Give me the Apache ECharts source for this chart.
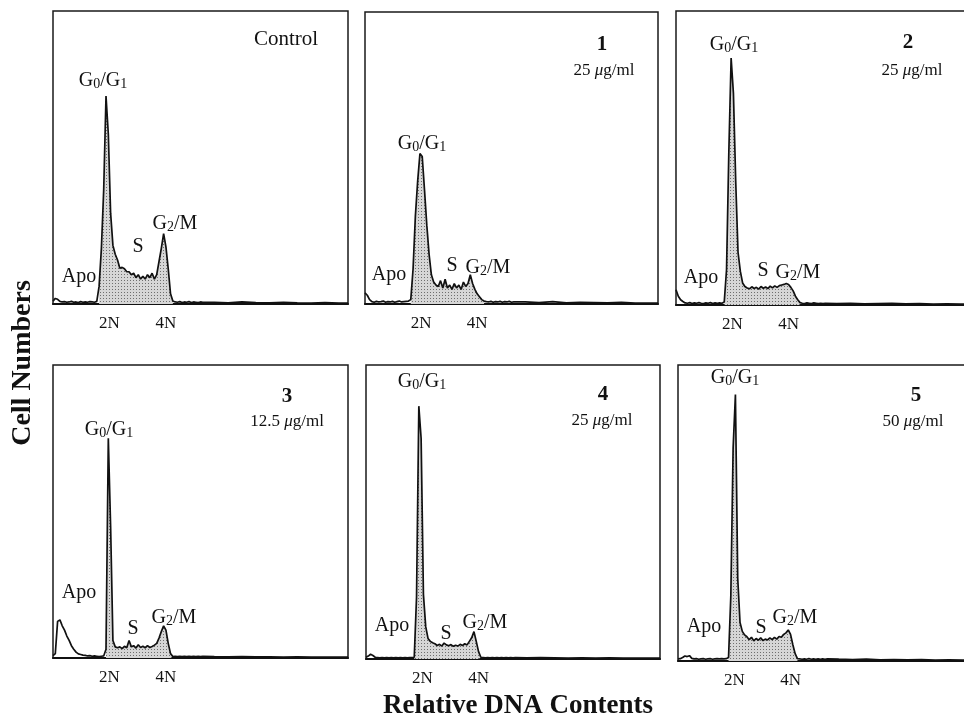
<!DOCTYPE html>
<html>
<head>
<meta charset="utf-8">
<script src="https://cdn.jsdelivr.net/npm/echarts@6/dist/echarts.min.js"></script>
<style>
html, body { margin: 0; background: #fff; overflow: hidden; }
/* a bit wider than the window: the right-hand panels run off the edge */
#main { width: 980px; height: 719px; }
</style>
</head>
<body>
<div id="main"></div>
<script>
// histogram channels: 0..130 every 2, then a sparse tail out to 256
const STEP = 2
const tailChannels = [140, 152, 164, 176, 188, 200, 212, 224, 236, 248, 256]

// cell counts, % of panel height
const controlCounts = [
    1.0, 1.9, 1.6, 0.9, 0.7, 0.8, 0.6, 0.7, 0.9, 0.6,
    0.7, 0.5, 0.8, 0.6, 0.7, 0.6, 0.8, 0.7, 0.6, 0.9,
    6, 19, 39, 71, 58, 31, 20, 17, 15, 12.2,
    12.5, 12, 11, 11, 10, 10.5, 9, 10, 8.5, 9.5,
    8.5, 10, 9, 10.5, 8.5, 10, 14.5, 19, 24, 19.5,
    12, 3.5, 1.0, 0.7, 0.6, 0.8, 0.5, 0.7, 0.6, 0.8,
    0.5, 0.7, 0.6, 0.5, 0.7, 0.6]
const dose1Counts = [
    3.8, 3.0, 1.5, 0.8, 0.6, 0.9, 0.7, 0.8, 1.0, 0.6,
    0.8, 0.7, 0.9, 0.6, 0.8, 1.0, 0.7, 0.8, 0.9, 1.0,
    1.5, 12, 30, 42, 51.5, 50.5, 39, 27, 17, 10,
    7.5, 6.5, 6, 8, 5.5, 8.5, 5.5, 6.5, 5, 7,
    5.5, 6.5, 5, 7.5, 6, 7, 10, 7, 5, 3.5,
    2.5, 1.5, 1.0, 0.8, 0.7, 0.9, 0.6, 0.8, 0.7, 0.9,
    0.6, 0.8, 0.7, 0.9, 0.6, 0.7]
const dose2Counts = [
    5.2, 3.0, 1.8, 1.2, 0.7, 0.6, 0.8, 0.5, 0.7, 0.6,
    0.8, 0.6, 0.5, 0.7, 0.6, 0.8, 0.5, 0.7, 0.6, 0.7,
    0.6, 1.0, 12, 52, 84, 72, 42, 18, 11.5, 7.5,
    6.3, 5.8, 5.5, 6.2, 5.6, 6.0, 5.4, 6.3, 5.7, 6.1,
    5.6, 6.4, 5.8, 6.5, 6.0, 6.6, 6.8, 7.0, 7.3, 7.0,
    6.0, 4.8, 3.0, 1.8, 0.8, 0.6, 0.5, 0.7, 0.6, 0.5,
    0.7, 0.6, 0.5, 0.6, 0.5, 0.6]
const dose3Counts = [
    0.8, 1.5, 12.5, 13, 11, 9.5, 7.5, 6, 4.2, 3,
    2, 1.4, 1.2, 1.0, 0.9, 0.7, 0.8, 0.6, 0.7, 0.6,
    0.5, 0.6, 0.7, 3, 75, 45, 6, 3.8, 3.5, 3.8,
    3.2, 4.0, 3.5, 6.0, 3.8, 4.2, 3.4, 4.5, 3.6, 4.0,
    3.5, 4.2, 3.6, 3.9, 4.4, 5.0, 6.8, 9, 11, 9.5,
    5, 1.5, 0.5, 0.6, 0.5, 0.6, 0.5, 0.6, 0.5, 0.6,
    0.5, 0.6, 0.5, 0.6, 0.5, 0.6]
const dose4Counts = [
    0.6, 1.0, 1.6, 1.2, 0.6, 0.5, 0.4, 0.5, 0.4, 0.5,
    0.4, 0.5, 0.4, 0.5, 0.4, 0.5, 0.4, 0.5, 0.4, 0.5,
    0.5, 0.6, 21, 86, 75, 22, 11, 7, 6, 5.5,
    5.2, 4.6, 5.0, 4.4, 5.4, 4.8, 4.5, 4.9, 4.3, 4.7,
    4.4, 5.0, 4.6, 5.2, 4.8, 6.0, 7.2, 9.3, 6, 2.5,
    0.6, 0.5, 0.4, 0.5, 0.4, 0.5, 0.4, 0.5, 0.4, 0.5,
    0.4, 0.5, 0.4, 0.5, 0.4, 0.5]
const dose5Counts = [
    0.7, 0.8, 1.2, 1.7, 1.5, 1.8, 0.9, 0.7, 0.8, 0.6,
    0.7, 0.8, 0.6, 0.7, 0.8, 0.6, 0.7, 0.8, 0.7, 0.8,
    0.7, 0.8, 1.2, 22, 72, 90, 28, 13, 10, 8.8,
    8.2, 7.2, 8.0, 6.8, 7.6, 7.0, 7.8, 6.9, 7.4, 7.1,
    7.8, 7.2, 8.0, 7.4, 8.3, 8.0, 9, 9.5, 10.5, 9,
    5.5, 2.5, 0.8, 0.7, 0.6, 0.7, 0.6, 0.8, 0.6, 0.7,
    0.6, 0.7, 0.6, 0.7, 0.6, 0.7]

const controlTail = [0.6, 0.4, 0.7, 0.5, 0.4, 0.6, 0.4, 0.3, 0.5, 0.3, 0.3]
const dose1Tail = [0.7, 0.5, 0.8, 0.4, 0.6, 0.5, 0.4, 0.6, 0.3, 0.3, 0.3]
const dose2Tail = [0.5, 0.6, 0.4, 0.5, 0.6, 0.4, 0.5, 0.3, 0.4, 0.3, 0.3]
const dose3Tail = [0.5, 0.4, 0.5, 0.4, 0.4, 0.3, 0.4, 0.3, 0.3, 0.3, 0.3]
const dose4Tail = [0.4, 0.5, 0.4, 0.3, 0.4, 0.3, 0.4, 0.3, 0.3, 0.3, 0.3]
const dose5Tail = [0.6, 0.5, 0.6, 0.4, 0.5, 0.4, 0.5, 0.3, 0.4, 0.3, 0.3]

// shaded (cell cycle) part of each histogram, in channels
const shadedRanges = [[40, 104], [40, 104], [42, 108], [46, 104], [42, 100], [44, 104]]

// 2N / 4N tick labels
const tickLabels = { 49: '2N', 98: '4N' }

const panelTitles = ['Control', '1', '2', '3', '4', '5']
const panelDoses = ['', '25', '25', '12.5', '25', '50']

const FONT = 'Liberation Serif'
const G01 = '{n|G}{s|0}{n|/G}{s|1}'
const G2M = '{n|G}{s|2}{n|/M}'

const panels = [
    { counts: controlCounts, tail: controlTail,
      grid: { left: 53, top: 11, width: 295, height: 293 },
      title: [286, 39], dose: null,
      g01: [103, 80], s: [138, 246], g2m: [175, 223], apo: [79, 276] },
    { counts: dose1Counts, tail: dose1Tail,
      grid: { left: 365, top: 12, width: 293, height: 292 },
      title: [602, 45], dose: [604, 71],
      g01: [422, 143], s: [452, 265], g2m: [488, 267], apo: [389, 274] },
    { counts: dose2Counts, tail: dose2Tail,
      grid: { left: 676, top: 11, width: 294, height: 294 },
      title: [908, 43], dose: [912, 71],
      g01: [734, 44], s: [763, 270], g2m: [798, 272], apo: [701, 277] },
    { counts: dose3Counts, tail: dose3Tail,
      grid: { left: 53, top: 365, width: 295, height: 293 },
      title: [287, 397], dose: [287, 422],
      g01: [109, 429], s: [133, 628], g2m: [174, 617], apo: [79, 592] },
    { counts: dose4Counts, tail: dose4Tail,
      grid: { left: 366, top: 365, width: 294, height: 294 },
      title: [603, 395], dose: [602, 421],
      g01: [422, 381], s: [446, 633], g2m: [485, 622], apo: [392, 625] },
    { counts: dose5Counts, tail: dose5Tail,
      grid: { left: 678, top: 365, width: 294, height: 296 },
      title: [916, 396], dose: [913, 422],
      g01: [735, 377], s: [761, 627], g2m: [795, 617], apo: [704, 626] },
]

// stippled grey fill like the printed halftone
function stipple() {
    const c = document.createElement('canvas')
    c.width = 3
    c.height = 3
    const ctx = c.getContext('2d')
    ctx.fillStyle = '#d6d6d6'
    ctx.fillRect(0, 0, 3, 3)
    ctx.fillStyle = '#6e6e6e'
    ctx.fillRect(1, 1, 1, 1)
    return c
}
const pattern = { image: stipple(), repeat: 'repeat' }

const phaseRich = {
    n: { fontFamily: FONT, fontSize: 20, color: '#111', lineHeight: 22, verticalAlign: 'bottom' },
    s: { fontFamily: FONT, fontSize: 14, color: '#111', lineHeight: 5, verticalAlign: 'bottom' },
}
const doseRich = {
    r: { fontFamily: FONT, fontSize: 17, color: '#111' },
    i: { fontFamily: FONT, fontSize: 17, color: '#111', fontStyle: 'italic' },
}

function textEl(text, pos, style) {
    return {
        type: 'text', x: pos[0], y: pos[1], silent: true,
        style: Object.assign({
            text, fill: '#111', align: 'center', verticalAlign: 'middle',
            textAlign: 'center', textVerticalAlign: 'middle', fontFamily: FONT,
        }, style),
    }
}

let grids = [], xAxes = [], yAxes = [], series = [], graphics = []
panels.forEach((p, k) => {
    grids.push(Object.assign({ show: true, borderColor: '#1a1a1a', borderWidth: 1.5 }, p.grid))
    xAxes.push({
        type: 'value', gridIndex: k, min: 0, max: 256, interval: 49,
        axisLine: { show: true, lineStyle: { color: '#111', width: 2 } },
        axisTick: { show: false },
        splitLine: { show: false },
        axisLabel: {
            interval: 0, margin: 11, color: '#111', fontFamily: FONT, fontSize: 17,
            formatter: v => tickLabels[v] || '',
        },
    })
    yAxes.push({
        type: 'value', gridIndex: k, min: 0, max: 100,
        axisLine: { show: false }, axisTick: { show: false },
        axisLabel: { show: false }, splitLine: { show: false },
    })
    const pts = p.counts.map((v, i) => [i * STEP, v])
    p.tail.forEach((v, i) => pts.push([tailChannels[i], v]))
    const [from, to] = shadedRanges[k]
    series.push({
        type: 'line', xAxisIndex: k, yAxisIndex: k, z: 1,
        data: pts.filter(d => d[0] >= from && d[0] <= to),
        symbol: 'none', lineStyle: { width: 0 },
        areaStyle: { color: pattern, opacity: 1 },
        silent: true,
    })
    series.push({
        type: 'line', xAxisIndex: k, yAxisIndex: k, z: 3,
        data: pts, symbol: 'none',
        lineStyle: { color: '#111', width: 1.7 },
        silent: true,
    })

    // panel annotations
    if (k === 0)
        graphics.push(textEl(panelTitles[k], p.title, { fontSize: 21 }))
    else
        graphics.push(textEl(panelTitles[k], p.title, { fontSize: 21, fontWeight: 'bold' }))
    if (p.dose)
        graphics.push(textEl(`{r|${panelDoses[k]} }{i|μ}{r|g/ml}`, p.dose, { rich: doseRich }))
    graphics.push(textEl(G01, p.g01, { rich: phaseRich }))
    graphics.push(textEl('{n|S}', p.s, { rich: phaseRich }))
    graphics.push(textEl(G2M, p.g2m, { rich: phaseRich }))
    graphics.push(textEl('{n|Apo}', p.apo, { rich: phaseRich }))
})

graphics.push(textEl('Relative DNA Contents', [518, 706], { fontSize: 27, fontWeight: 'bold' }))
graphics.push(Object.assign(textEl('Cell Numbers', [23, 363], { fontSize: 28, fontWeight: 'bold' }),
    { rotation: Math.PI / 2 }))

const chart = echarts.init(document.getElementById('main'))
chart.setOption({
    backgroundColor: '#fff',
    animation: false,
    grid: grids,
    xAxis: xAxes,
    yAxis: yAxes,
    series: series,
    graphic: { elements: graphics },
})
</script>
</body>
</html>
